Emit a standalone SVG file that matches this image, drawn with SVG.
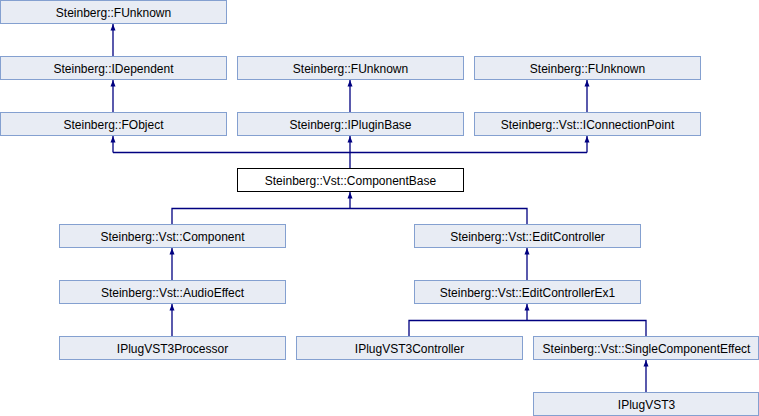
<svg xmlns="http://www.w3.org/2000/svg" width="759" height="416" viewBox="0 0 759 416">
<defs>
<style>
.n rect{fill:#E8ECF4;stroke:#84A0D0;stroke-width:1}
.n.main rect{fill:#FFFFFF;stroke:#000000}
.n text{font-family:"Liberation Sans",Arial,sans-serif;font-size:12px;fill:#000000;text-anchor:middle}
.e{fill:none;stroke:#000080;stroke-width:1.3}
</style>
<marker id="ah" markerWidth="7" markerHeight="6" refX="6.5" refY="3" orient="auto" markerUnits="userSpaceOnUse" viewBox="0 0 7 6">
<path d="M0,0.5 L6.5,3 L0,5.5 Z" fill="#000080"/>
</marker>
</defs>
<rect width="759" height="416" fill="#FFFFFF"/>
<g id="connectors">
<path class="e" d="M113,56 V24" marker-end="url(#ah)"/>
<path class="e" d="M113,112 V80" marker-end="url(#ah)"/>
<path class="e" d="M350,112 V80" marker-end="url(#ah)"/>
<path class="e" d="M587,112 V80" marker-end="url(#ah)"/>
<path class="e" d="M113,152.5 V136" marker-end="url(#ah)"/>
<path class="e" d="M350,168 V136" marker-end="url(#ah)"/>
<path class="e" d="M587,152.5 V136" marker-end="url(#ah)"/>
<path class="e" d="M113,152.5 H587"/>
<path class="e" d="M172,224 V208.5 H527 V224"/>
<path class="e" d="M350,208.5 V192" marker-end="url(#ah)"/>
<path class="e" d="M172,280 V248" marker-end="url(#ah)"/>
<path class="e" d="M172,336 V304" marker-end="url(#ah)"/>
<path class="e" d="M527,280 V248" marker-end="url(#ah)"/>
<path class="e" d="M409,336 V320.5 H646 V336"/>
<path class="e" d="M527,320.5 V304" marker-end="url(#ah)"/>
<path class="e" d="M646,392 V360" marker-end="url(#ah)"/>
</g>
<g id="n_funknown1" class="n"><rect x="0.5" y="0.5" width="226" height="23"/><text x="113.5" y="16.5">Steinberg::FUnknown</text></g>
<g id="n_idependent" class="n"><rect x="0.5" y="56.5" width="226" height="23"/><text x="113.5" y="72.5">Steinberg::IDependent</text></g>
<g id="n_funknown2" class="n"><rect x="237.5" y="56.5" width="226" height="23"/><text x="350.5" y="72.5">Steinberg::FUnknown</text></g>
<g id="n_funknown3" class="n"><rect x="474.5" y="56.5" width="226" height="23"/><text x="587.5" y="72.5">Steinberg::FUnknown</text></g>
<g id="n_fobject" class="n"><rect x="0.5" y="112.5" width="226" height="23"/><text x="113.5" y="128.5">Steinberg::FObject</text></g>
<g id="n_ipluginbase" class="n"><rect x="237.5" y="112.5" width="226" height="23"/><text x="350.5" y="128.5">Steinberg::IPluginBase</text></g>
<g id="n_iconnectionpoint" class="n"><rect x="474.5" y="112.5" width="226" height="23"/><text x="587.5" y="128.5">Steinberg::Vst::IConnectionPoint</text></g>
<g id="n_componentbase" class="n main"><rect x="237.5" y="168.5" width="226" height="23"/><text x="350.5" y="184.5">Steinberg::Vst::ComponentBase</text></g>
<g id="n_component" class="n"><rect x="59.5" y="224.5" width="226" height="23"/><text x="172.5" y="240.5">Steinberg::Vst::Component</text></g>
<g id="n_editcontroller" class="n"><rect x="414.5" y="224.5" width="226" height="23"/><text x="527.5" y="240.5">Steinberg::Vst::EditController</text></g>
<g id="n_audioeffect" class="n"><rect x="59.5" y="280.5" width="226" height="23"/><text x="172.5" y="296.5">Steinberg::Vst::AudioEffect</text></g>
<g id="n_editcontrollerex1" class="n"><rect x="414.5" y="280.5" width="226" height="23"/><text x="527.5" y="296.5">Steinberg::Vst::EditControllerEx1</text></g>
<g id="n_iplugvst3processor" class="n"><rect x="59.5" y="336.5" width="226" height="23"/><text x="172.5" y="352.5">IPlugVST3Processor</text></g>
<g id="n_iplugvst3controller" class="n"><rect x="296.5" y="336.5" width="226" height="23"/><text x="409.5" y="352.5">IPlugVST3Controller</text></g>
<g id="n_singlecomponenteffect" class="n"><rect x="533.5" y="336.5" width="225" height="23"/><text x="646.5" y="352.5">Steinberg::Vst::SingleComponentEffect</text></g>
<g id="n_iplugvst3" class="n"><rect x="533.5" y="392.5" width="225" height="23"/><text x="646.5" y="408.5">IPlugVST3</text></g>
</svg>
